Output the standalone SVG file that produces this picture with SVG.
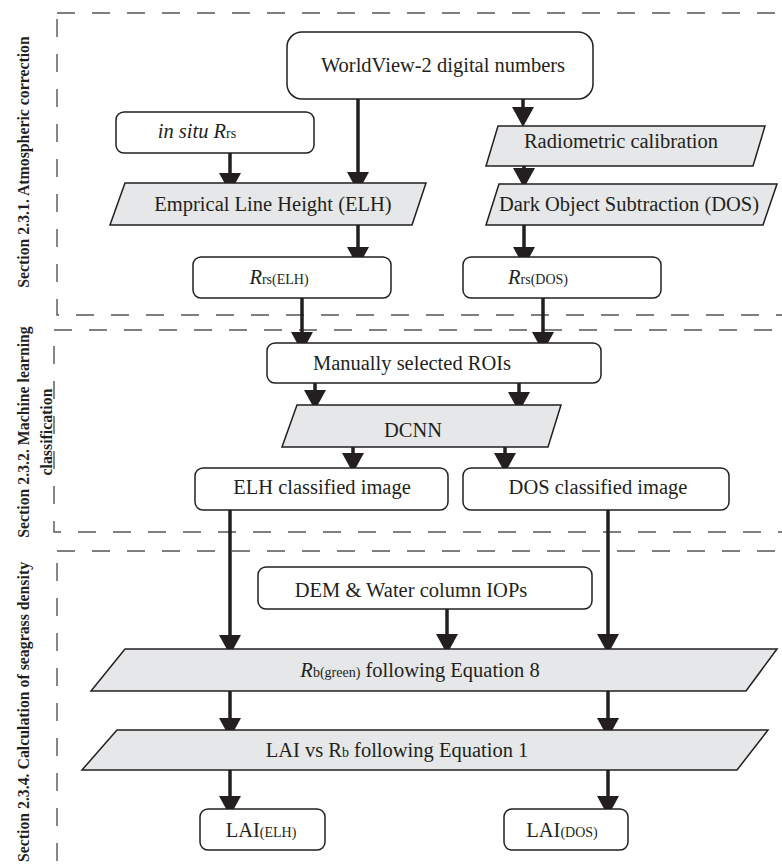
<svg xmlns="http://www.w3.org/2000/svg" width="782" height="866" viewBox="0 0 782 866">
<style>
.sec{fill:none;stroke:#555;stroke-width:1.4;stroke-dasharray:18 17}
.box{fill:#fff;stroke:#231f20;stroke-width:1.5}
.par{fill:#e6e7e8;stroke:#231f20;stroke-width:1.5}
.t{font-family:"Liberation Serif","Times New Roman",serif;font-size:20.5px;fill:#231f20;text-anchor:middle}
.lab{font-family:"Liberation Serif","Times New Roman",serif;font-size:15.8px;font-weight:bold;fill:#231f20;text-anchor:middle}
.sub{font-size:14px}
.it{font-style:italic}
.c line{stroke:#231f20;stroke-width:3.5;marker-end:url(#ah)}
</style>
<defs>
<marker id="ah" markerUnits="userSpaceOnUse" markerWidth="20" markerHeight="22" viewBox="0 0 20 22" refX="10" refY="11" orient="auto">
<path d="M0,0 L20,11 L0,22 Z" fill="#231f20"/>
</marker>
</defs>
<rect width="782" height="866" fill="#fff"/>
<g id="sections">
<rect class="sec" x="57" y="13" width="760" height="302"/>
<rect class="sec" x="54" y="330" width="760" height="202"/>
<rect class="sec" x="57" y="551" width="760" height="340"/>
<text class="lab" transform="translate(29,162) rotate(-90)">Section 2.3.1. Atmospheric correction</text>
<text class="lab" transform="translate(29,432) rotate(-90)">Section 2.3.2. Machine learning</text>
<text class="lab" transform="translate(52,432) rotate(-90)">classification</text>
<text class="lab" transform="translate(29,712) rotate(-90)">Section 2.3.4. Calculation of seagrass density</text>
</g>
<g class="c" id="connectors">
<line x1="358" y1="99" x2="358" y2="182"/>
<line x1="230" y1="153" x2="230" y2="183"/>
<line x1="523" y1="99" x2="523" y2="117"/>
<line x1="524" y1="166" x2="524" y2="178"/>
<line x1="358" y1="225" x2="358" y2="257"/>
<line x1="524" y1="225" x2="524" y2="257"/>
<line x1="302" y1="298" x2="302" y2="342"/>
<line x1="543" y1="298" x2="543" y2="342"/>
<line x1="315" y1="383" x2="315" y2="400"/>
<line x1="519" y1="383" x2="519" y2="402"/>
<line x1="353" y1="447" x2="353" y2="463"/>
<line x1="505" y1="447" x2="505" y2="463"/>
<line x1="230" y1="510" x2="230" y2="645"/>
<line x1="608" y1="510" x2="608" y2="644"/>
<line x1="447" y1="609" x2="447" y2="644"/>
<line x1="230" y1="691" x2="230" y2="728"/>
<line x1="608" y1="691" x2="608" y2="728"/>
<line x1="230" y1="770" x2="230" y2="806"/>
<line x1="608" y1="770" x2="608" y2="806"/>
</g>
<g id="worldview">
<rect class="box" x="287" y="32" width="306" height="67" rx="15"/>
<text class="t" x="443" y="72">WorldView-2 digital numbers</text>
</g>
<g id="insitu">
<rect class="box" x="116" y="112" width="198" height="41" rx="8"/>
<text class="t" x="197" y="138"><tspan class="it">in situ R</tspan><tspan class="sub">rs</tspan></text>
</g>
<g id="elh">
<polygon class="par" points="125,183 426,183 412,225 110,225"/>
<text class="t" x="273" y="211">Emprical Line Height (ELH)</text>
</g>
<g id="radiometric">
<polygon class="par" points="498,126 765,126 753,166 486,166"/>
<text class="t" x="621" y="148">Radiometric calibration</text>
</g>
<g id="dos">
<polygon class="par" points="499,184 777,184 763,225 486,225"/>
<text class="t" x="629" y="211">Dark Object Subtraction (DOS)</text>
</g>
<g id="rrs-elh">
<rect class="box" x="193" y="257" width="198" height="41" rx="8"/>
<text class="t" x="279" y="284"><tspan class="it">R</tspan><tspan class="sub">rs(ELH)</tspan></text>
</g>
<g id="rrs-dos">
<rect class="box" x="463" y="257" width="198" height="41" rx="8"/>
<text class="t" x="538" y="284"><tspan class="it">R</tspan><tspan class="sub">rs(DOS)</tspan></text>
</g>
<g id="rois">
<rect class="box" x="267" y="343" width="334" height="40" rx="8"/>
<text class="t" x="412" y="370">Manually selected ROIs</text>
</g>
<g id="dcnn">
<polygon class="par" points="297,405 561,405 548,447 282,447"/>
<text class="t" x="413" y="437">DCNN</text>
</g>
<g id="elh-class">
<rect class="box" x="195" y="468" width="253" height="42" rx="8"/>
<text class="t" x="322" y="494">ELH classified image</text>
</g>
<g id="dos-class">
<rect class="box" x="463" y="468" width="266" height="42" rx="8"/>
<text class="t" x="598" y="494">DOS classified image</text>
</g>
<g id="dem">
<rect class="box" x="258" y="567" width="334" height="42" rx="8"/>
<text class="t" x="411" y="597">DEM &amp; Water column IOPs</text>
</g>
<g id="rb">
<polygon class="par" points="125,649 777,649 746,691 91,691"/>
<text class="t" x="420" y="677"><tspan class="it">R</tspan><tspan class="sub">b(green)</tspan> following Equation 8</text>
</g>
<g id="lai-rb">
<polygon class="par" points="117,730 768,730 737,770 82,770"/>
<text class="t" x="397" y="757">LAI vs R<tspan class="sub">b</tspan> following Equation 1</text>
</g>
<g id="lai-elh">
<rect class="box" x="200" y="809" width="125" height="41" rx="8"/>
<text class="t" x="261" y="837">LAI<tspan class="sub">(ELH)</tspan></text>
</g>
<g id="lai-dos">
<rect class="box" x="504" y="809" width="124" height="41" rx="8"/>
<text class="t" x="562" y="837">LAI<tspan class="sub">(DOS)</tspan></text>
</g>
</svg>
